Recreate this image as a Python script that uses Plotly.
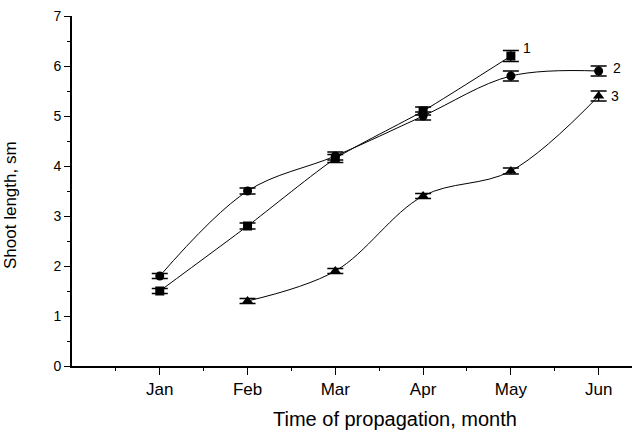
import plotly.graph_objects as go

months = ["Jan", "Feb", "Mar", "Apr", "May", "Jun"]
month_pos = [1, 2, 3, 4, 5, 6]

s1_x = [1, 2, 3, 4, 5]
s1_y = [1.5, 2.8, 4.15, 5.1, 6.2]
s1_err = [0.05, 0.06, 0.08, 0.08, 0.11]

s2_x = [1, 2, 3, 4, 5, 6]
s2_y = [1.8, 3.5, 4.2, 5.0, 5.8, 5.9]
s2_err = [0.05, 0.06, 0.08, 0.08, 0.1, 0.1]

s3_x = [2, 3, 4, 5, 6]
s3_y = [1.3, 1.9, 3.4, 3.9, 5.4]
s3_err = [0.05, 0.05, 0.05, 0.06, 0.1]

series_names = ["1", "2", "3"]

FONT = "Liberation Sans, Arial, sans-serif"

styles = [
    dict(symbol="square", size=9, smoothing=0.6, xshift=10, yshift=8),
    dict(symbol="circle", size=9, smoothing=1.0, xshift=12, yshift=3),
    dict(symbol="triangle-up", size=10, smoothing=1.0, xshift=10, yshift=0),
]
data = [(s1_x, s1_y, s1_err), (s2_x, s2_y, s2_err), (s3_x, s3_y, s3_err)]

fig = go.Figure()
annotations = []
for name, (xs, ys, errs), st in zip(series_names, data, styles):
    fig.add_trace(go.Scatter(
        x=xs, y=ys, mode="lines",
        line=dict(color="black", width=1, shape="spline", smoothing=st["smoothing"]),
        showlegend=False, hoverinfo="skip"))
    fig.add_trace(go.Scatter(
        x=xs, y=ys, mode="markers",
        marker=dict(symbol=st["symbol"], size=st["size"], color="black"),
        error_y=dict(type="data", array=errs, visible=True, color="black",
                     thickness=1.3, width=8),
        showlegend=False))
    annotations.append(dict(
        x=xs[-1], y=ys[-1], text=name, showarrow=False,
        xanchor="left", yanchor="middle", xshift=st["xshift"], yshift=st["yshift"],
        font=dict(family=FONT, size=14, color="black")))

annotations.append(dict(
    text="Time of propagation, month", xref="paper", yref="paper",
    x=0.577, y=0, xanchor="center", yanchor="middle", yshift=-53,
    showarrow=False, font=dict(family=FONT, size=20, color="black")))
annotations.append(dict(
    text="Shoot length, sm", xref="paper", yref="paper",
    x=0, y=0.46, xanchor="center", yanchor="middle", xshift=-62, textangle=-90,
    showarrow=False, font=dict(family=FONT, size=17, color="black")))

fig.update_layout(
    width=632, height=432,
    margin=dict(l=72, r=0, t=16, b=66),
    paper_bgcolor="white", plot_bgcolor="white",
    font=dict(family=FONT, size=12, color="black"),
    annotations=annotations,
)
fig.update_xaxes(
    range=[0, 6.38], tickvals=month_pos, ticktext=months,
    showline=True, linecolor="black", linewidth=1.6,
    ticks="outside", ticklen=7, tickwidth=1.3, tickcolor="black",
    minor=dict(tickvals=[0.5, 1.5, 2.5, 3.5, 4.5, 5.5], ticks="outside", ticklen=3, tickcolor="black", tickwidth=1),
    showgrid=False, zeroline=False, automargin=False,
    tickfont=dict(size=17),
)
fig.update_yaxes(
    range=[0, 7], dtick=1,
    showline=True, linecolor="black", linewidth=1.6,
    ticks="outside", ticklen=6, tickwidth=1.3, tickcolor="black",
    minor=dict(dtick=0.5, ticks="outside", ticklen=3, tickcolor="black", tickwidth=1),
    showgrid=False, zeroline=False, automargin=False,
    tickfont=dict(size=14),
)

fig.write_html("out.html", config={"displayModeBar": False},
               post_script="document.body.style.margin='0';document.body.style.overflow='hidden';")
